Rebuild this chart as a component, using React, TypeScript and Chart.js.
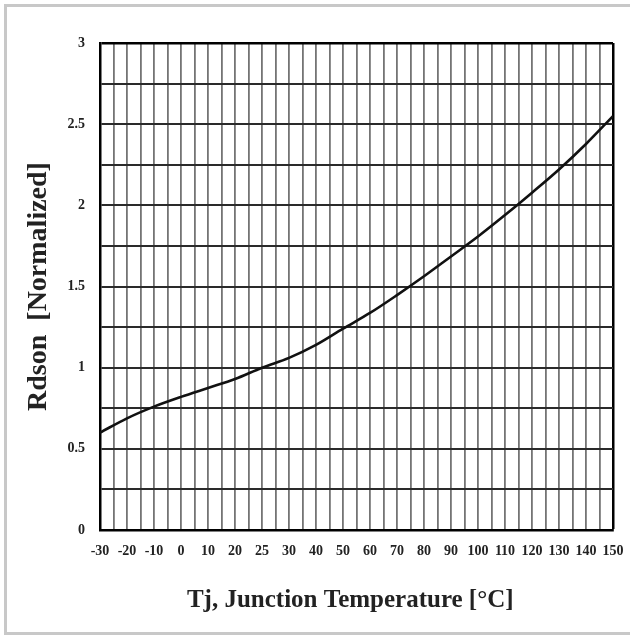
import React, { useEffect, useRef } from 'react';
import { Chart, registerables } from 'chart.js';

Chart.register(...registerables);

// Junction temperature categories (°C), evenly spaced along the axis
const tempLabels = ['-30', '-20', '-10', '0', '10', '20', '25', '30', '40', '50', '60', '70', '80', '90', '100', '110', '120', '130', '140', '150'];
// Normalized on-resistance at each temperature category
const rdsonNormalized = [0.60, 0.688, 0.76, 0.82, 0.875, 0.93, 1.0, 1.06, 1.14, 1.24, 1.337, 1.447, 1.563, 1.685, 1.808, 1.94, 2.078, 2.221, 2.378, 2.55];
// Labels shown on the value axis (every 0.5)
const yTickLabels = ['0', '0.5', '1', '1.5', '2', '2.5', '3'];

const SERIF = '"Liberation Serif", "Times New Roman", serif';

export default function App() {
  const canvasRef = useRef<HTMLCanvasElement>(null);

  useEffect(() => {
    const canvas = canvasRef.current;
    if (!canvas) return;
    const xMax = tempLabels.length - 1;
    const yMax = 3;

    const chart = new Chart(canvas, {
      type: 'line',
      data: {
        datasets: [
          {
            data: rdsonNormalized.map((v, i) => ({ x: i, y: v })),
            borderColor: '#111',
            borderWidth: 2.6,
            pointRadius: 0,
            fill: false,
            tension: 0.35,
            cubicInterpolationMode: 'monotone',
          },
        ],
      },
      options: {
        responsive: false,
        animation: false,
        devicePixelRatio: 1,
        layout: { padding: { left: 0, top: 43, right: 17, bottom: 0 } },
        plugins: { legend: { display: false }, tooltip: { enabled: false } },
        scales: {
          x: {
            type: 'linear',
            min: 0,
            max: xMax,
            afterFit: (s: any) => {
              s.height = 108;
              // the end labels may overhang the plot; keep the plot edges fixed
              s.paddingLeft = 0;
              s.paddingRight = 0;
            },
            ticks: {
              stepSize: 0.5,
              autoSkip: false,
              maxRotation: 0,
              minRotation: 0,
              padding: 13,
              color: '#222',
              font: { family: SERIF, size: 14, weight: 'bold' },
              callback: (v: any) => (Number.isInteger(v) ? tempLabels[v] : ''),
            },
            grid: {
              drawTicks: false,
              color: (c: any) => (c.tick && c.tick.value === xMax ? '#000' : '#747474'),
              lineWidth: (c: any) => (c.tick && c.tick.value === xMax ? 2.5 : 1.8),
            },
            border: { display: true, color: '#000', width: 2.5 },
            title: {
              display: true,
              text: 'Tj, Junction Temperature [°C]  ',
              color: '#222',
              font: { family: SERIF, size: 25, weight: 'bold' },
              padding: { top: 0, bottom: 22 },
            },
          },
          y: {
            type: 'linear',
            min: 0,
            max: yMax,
            afterFit: (s: any) => {
              s.width = 100;
            },
            ticks: {
              stepSize: 0.25,
              autoSkip: false,
              padding: 15,
              color: '#222',
              font: { family: SERIF, size: 14, weight: 'bold' },
              callback: (v: any) => {
                const k = Math.round(v * 2);
                return Math.abs(v * 2 - k) < 1e-6 ? yTickLabels[k] : '';
              },
            },
            grid: {
              drawTicks: false,
              color: (c: any) => (c.tick && c.tick.value === yMax ? '#000' : '#2a2a2a'),
              lineWidth: (c: any) => (c.tick && c.tick.value === yMax ? 2.5 : 2),
            },
            border: { display: true, color: '#000', width: 2.5 },
            title: {
              display: true,
              text: 'Rdson  [Normalized]',
              color: '#222',
              font: { family: SERIF, size: 28, weight: 'bold' },
              padding: { top: 22, bottom: 0 },
            },
          },
        },
      },
    } as any);

    return () => chart.destroy();
  }, []);

  return (
    <div style={{ position: 'fixed', left: 0, top: 0, width: 630, height: 638, background: '#fff', overflow: 'hidden' }}>
      <div
        style={{
          position: 'absolute',
          left: 4,
          top: 4,
          width: 720,
          height: 631,
          boxSizing: 'border-box',
          borderTop: '3px solid #c8c8c8',
          borderLeft: '3px solid #c8c8c8',
          borderBottom: '3px solid #c8c8c8',
        }}
      />
      <canvas
        ref={canvasRef}
        width={630}
        height={638}
        style={{ position: 'absolute', left: 0, top: 0, width: 630, height: 638 }}
      />
    </div>
  );
}
